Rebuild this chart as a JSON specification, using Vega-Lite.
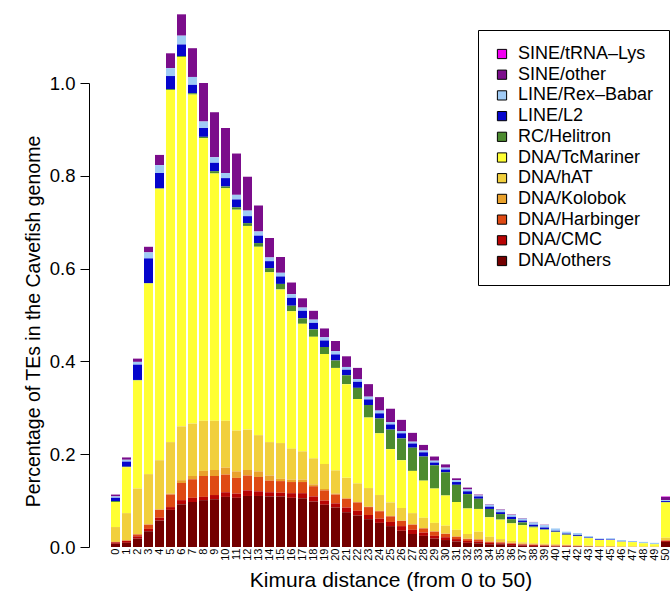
{
  "$schema": "https://vega.github.io/schema/vega-lite/v6.json",
  "width": 561,
  "height": 540,
  "autosize": {"type": "none"},
  "padding": {"left": 110, "top": 7, "right": 1, "bottom": 44},
  "background": "white",
  "config": {
    "view": {"stroke": null},
    "font": "Liberation Sans",
    "axis": {"grid": false, "labelColor": "black", "titleColor": "black", "domainColor": "black", "tickColor": "black", "titleFontWeight": "normal"}
  },
  "data": {
    "values": [
      {"k": 0, "DNA/others": 0.007, "DNA/CMC": 0.003, "DNA/Harbinger": 0.001, "DNA/Kolobok": 0, "DNA/hAT": 0.032, "DNA/TcMariner": 0.054, "RC/Helitron": 0.002, "LINE/L2": 0.007, "LINE/Rex–Babar": 0.003, "SINE/other": 0.004, "SINE/tRNA–Lys": 0},
      {"k": 1, "DNA/others": 0.009, "DNA/CMC": 0.004, "DNA/Harbinger": 0.001, "DNA/Kolobok": 0, "DNA/hAT": 0.059, "DNA/TcMariner": 0.099, "RC/Helitron": 0.001, "LINE/L2": 0.011, "LINE/Rex–Babar": 0.004, "SINE/other": 0.005, "SINE/tRNA–Lys": 0},
      {"k": 2, "DNA/others": 0.018, "DNA/CMC": 0.005, "DNA/Harbinger": 0.004, "DNA/Kolobok": 0.001, "DNA/hAT": 0.098, "DNA/TcMariner": 0.233, "RC/Helitron": 0.001, "LINE/L2": 0.033, "LINE/Rex–Babar": 0.006, "SINE/other": 0.007, "SINE/tRNA–Lys": 0},
      {"k": 3, "DNA/others": 0.034, "DNA/CMC": 0.005, "DNA/Harbinger": 0.009, "DNA/Kolobok": 0.001, "DNA/hAT": 0.108, "DNA/TcMariner": 0.411, "RC/Helitron": 0.001, "LINE/L2": 0.053, "LINE/Rex–Babar": 0.013, "SINE/other": 0.012, "SINE/tRNA–Lys": 0},
      {"k": 4, "DNA/others": 0.057, "DNA/CMC": 0.006, "DNA/Harbinger": 0.017, "DNA/Kolobok": 0.001, "DNA/hAT": 0.106, "DNA/TcMariner": 0.585, "RC/Helitron": 0.001, "LINE/L2": 0.033, "LINE/Rex–Babar": 0.017, "SINE/other": 0.022, "SINE/tRNA–Lys": 0},
      {"k": 5, "DNA/others": 0.080, "DNA/CMC": 0.006, "DNA/Harbinger": 0.027, "DNA/Kolobok": 0.002, "DNA/hAT": 0.111, "DNA/TcMariner": 0.759, "RC/Helitron": 0.002, "LINE/L2": 0.028, "LINE/Rex–Babar": 0.017, "SINE/other": 0.032, "SINE/tRNA–Lys": 0},
      {"k": 6, "DNA/others": 0.092, "DNA/CMC": 0.009, "DNA/Harbinger": 0.037, "DNA/Kolobok": 0.006, "DNA/hAT": 0.116, "DNA/TcMariner": 0.796, "RC/Helitron": 0.002, "LINE/L2": 0.025, "LINE/Rex–Babar": 0.019, "SINE/other": 0.046, "SINE/tRNA–Lys": 0},
      {"k": 7, "DNA/others": 0.097, "DNA/CMC": 0.009, "DNA/Harbinger": 0.040, "DNA/Kolobok": 0.007, "DNA/hAT": 0.113, "DNA/TcMariner": 0.709, "RC/Helitron": 0.003, "LINE/L2": 0.018, "LINE/Rex–Babar": 0.017, "SINE/other": 0.062, "SINE/tRNA–Lys": 0},
      {"k": 8, "DNA/others": 0.101, "DNA/CMC": 0.007, "DNA/Harbinger": 0.045, "DNA/Kolobok": 0.011, "DNA/hAT": 0.108, "DNA/TcMariner": 0.609, "RC/Helitron": 0.003, "LINE/L2": 0.019, "LINE/Rex–Babar": 0.014, "SINE/other": 0.083, "SINE/tRNA–Lys": 0},
      {"k": 9, "DNA/others": 0.103, "DNA/CMC": 0.009, "DNA/Harbinger": 0.041, "DNA/Kolobok": 0.013, "DNA/hAT": 0.106, "DNA/TcMariner": 0.533, "RC/Helitron": 0.005, "LINE/L2": 0.018, "LINE/Rex–Babar": 0.012, "SINE/other": 0.097, "SINE/tRNA–Lys": 0},
      {"k": 10, "DNA/others": 0.108, "DNA/CMC": 0.010, "DNA/Harbinger": 0.038, "DNA/Kolobok": 0.015, "DNA/hAT": 0.101, "DNA/TcMariner": 0.501, "RC/Helitron": 0.004, "LINE/L2": 0.018, "LINE/Rex–Babar": 0.011, "SINE/other": 0.097, "SINE/tRNA–Lys": 0},
      {"k": 11, "DNA/others": 0.106, "DNA/CMC": 0.009, "DNA/Harbinger": 0.034, "DNA/Kolobok": 0.014, "DNA/hAT": 0.088, "DNA/TcMariner": 0.476, "RC/Helitron": 0.005, "LINE/L2": 0.017, "LINE/Rex–Babar": 0.010, "SINE/other": 0.089, "SINE/tRNA–Lys": 0},
      {"k": 12, "DNA/others": 0.110, "DNA/CMC": 0.012, "DNA/Harbinger": 0.032, "DNA/Kolobok": 0.012, "DNA/hAT": 0.087, "DNA/TcMariner": 0.439, "RC/Helitron": 0.006, "LINE/L2": 0.015, "LINE/Rex–Babar": 0.012, "SINE/other": 0.073, "SINE/tRNA–Lys": 0},
      {"k": 13, "DNA/others": 0.110, "DNA/CMC": 0.010, "DNA/Harbinger": 0.031, "DNA/Kolobok": 0.012, "DNA/hAT": 0.078, "DNA/TcMariner": 0.406, "RC/Helitron": 0.008, "LINE/L2": 0.016, "LINE/Rex–Babar": 0.009, "SINE/other": 0.056, "SINE/tRNA–Lys": 0},
      {"k": 14, "DNA/others": 0.109, "DNA/CMC": 0.009, "DNA/Harbinger": 0.025, "DNA/Kolobok": 0.011, "DNA/hAT": 0.072, "DNA/TcMariner": 0.366, "RC/Helitron": 0.009, "LINE/L2": 0.015, "LINE/Rex–Babar": 0.008, "SINE/other": 0.042, "SINE/tRNA–Lys": 0},
      {"k": 15, "DNA/others": 0.109, "DNA/CMC": 0.008, "DNA/Harbinger": 0.025, "DNA/Kolobok": 0.005, "DNA/hAT": 0.077, "DNA/TcMariner": 0.331, "RC/Helitron": 0.012, "LINE/L2": 0.016, "LINE/Rex–Babar": 0.008, "SINE/other": 0.034, "SINE/tRNA–Lys": 0},
      {"k": 16, "DNA/others": 0.106, "DNA/CMC": 0.010, "DNA/Harbinger": 0.024, "DNA/Kolobok": 0.005, "DNA/hAT": 0.067, "DNA/TcMariner": 0.296, "RC/Helitron": 0.012, "LINE/L2": 0.017, "LINE/Rex–Babar": 0.008, "SINE/other": 0.025, "SINE/tRNA–Lys": 0},
      {"k": 17, "DNA/others": 0.105, "DNA/CMC": 0.011, "DNA/Harbinger": 0.024, "DNA/Kolobok": 0.005, "DNA/hAT": 0.061, "DNA/TcMariner": 0.275, "RC/Helitron": 0.012, "LINE/L2": 0.016, "LINE/Rex–Babar": 0.007, "SINE/other": 0.020, "SINE/tRNA–Lys": 0},
      {"k": 18, "DNA/others": 0.098, "DNA/CMC": 0.011, "DNA/Harbinger": 0.022, "DNA/Kolobok": 0.004, "DNA/hAT": 0.056, "DNA/TcMariner": 0.262, "RC/Helitron": 0.016, "LINE/L2": 0.014, "LINE/Rex–Babar": 0.007, "SINE/other": 0.019, "SINE/tRNA–Lys": 0},
      {"k": 19, "DNA/others": 0.091, "DNA/CMC": 0.009, "DNA/Harbinger": 0.022, "DNA/Kolobok": 0.003, "DNA/hAT": 0.054, "DNA/TcMariner": 0.237, "RC/Helitron": 0.015, "LINE/L2": 0.014, "LINE/Rex–Babar": 0.007, "SINE/other": 0.019, "SINE/tRNA–Lys": 0},
      {"k": 20, "DNA/others": 0.085, "DNA/CMC": 0.009, "DNA/Harbinger": 0.019, "DNA/Kolobok": 0.002, "DNA/hAT": 0.050, "DNA/TcMariner": 0.221, "RC/Helitron": 0.016, "LINE/L2": 0.013, "LINE/Rex–Babar": 0.007, "SINE/other": 0.022, "SINE/tRNA–Lys": 0},
      {"k": 21, "DNA/others": 0.075, "DNA/CMC": 0.010, "DNA/Harbinger": 0.019, "DNA/Kolobok": 0.001, "DNA/hAT": 0.044, "DNA/TcMariner": 0.202, "RC/Helitron": 0.019, "LINE/L2": 0.012, "LINE/Rex–Babar": 0.006, "SINE/other": 0.023, "SINE/tRNA–Lys": 0},
      {"k": 22, "DNA/others": 0.068, "DNA/CMC": 0.010, "DNA/Harbinger": 0.018, "DNA/Kolobok": 0.001, "DNA/hAT": 0.040, "DNA/TcMariner": 0.182, "RC/Helitron": 0.024, "LINE/L2": 0.013, "LINE/Rex–Babar": 0.006, "SINE/other": 0.024, "SINE/tRNA–Lys": 0},
      {"k": 23, "DNA/others": 0.060, "DNA/CMC": 0.009, "DNA/Harbinger": 0.017, "DNA/Kolobok": 0.001, "DNA/hAT": 0.040, "DNA/TcMariner": 0.152, "RC/Helitron": 0.027, "LINE/L2": 0.012, "LINE/Rex–Babar": 0.006, "SINE/other": 0.027, "SINE/tRNA–Lys": 0},
      {"k": 24, "DNA/others": 0.052, "DNA/CMC": 0.009, "DNA/Harbinger": 0.016, "DNA/Kolobok": 0.001, "DNA/hAT": 0.034, "DNA/TcMariner": 0.133, "RC/Helitron": 0.032, "LINE/L2": 0.011, "LINE/Rex–Babar": 0.006, "SINE/other": 0.029, "SINE/tRNA–Lys": 0},
      {"k": 25, "DNA/others": 0.045, "DNA/CMC": 0.009, "DNA/Harbinger": 0.012, "DNA/Kolobok": 0.001, "DNA/hAT": 0.029, "DNA/TcMariner": 0.115, "RC/Helitron": 0.042, "LINE/L2": 0.011, "LINE/Rex–Babar": 0.005, "SINE/other": 0.029, "SINE/tRNA–Lys": 0},
      {"k": 26, "DNA/others": 0.035, "DNA/CMC": 0.010, "DNA/Harbinger": 0.011, "DNA/Kolobok": 0.001, "DNA/hAT": 0.027, "DNA/TcMariner": 0.103, "RC/Helitron": 0.047, "LINE/L2": 0.011, "LINE/Rex–Babar": 0.005, "SINE/other": 0.024, "SINE/tRNA–Lys": 0},
      {"k": 27, "DNA/others": 0.028, "DNA/CMC": 0.009, "DNA/Harbinger": 0.011, "DNA/Kolobok": 0.001, "DNA/hAT": 0.024, "DNA/TcMariner": 0.091, "RC/Helitron": 0.050, "LINE/L2": 0.009, "LINE/Rex–Babar": 0.004, "SINE/other": 0.019, "SINE/tRNA–Lys": 0},
      {"k": 28, "DNA/others": 0.024, "DNA/CMC": 0.007, "DNA/Harbinger": 0.009, "DNA/Kolobok": 0.001, "DNA/hAT": 0.022, "DNA/TcMariner": 0.080, "RC/Helitron": 0.052, "LINE/L2": 0.009, "LINE/Rex–Babar": 0.004, "SINE/other": 0.012, "SINE/tRNA–Lys": 0},
      {"k": 29, "DNA/others": 0.018, "DNA/CMC": 0.006, "DNA/Harbinger": 0.009, "DNA/Kolobok": 0.001, "DNA/hAT": 0.018, "DNA/TcMariner": 0.074, "RC/Helitron": 0.050, "LINE/L2": 0.006, "LINE/Rex–Babar": 0.004, "SINE/other": 0.009, "SINE/tRNA–Lys": 0},
      {"k": 30, "DNA/others": 0.015, "DNA/CMC": 0.006, "DNA/Harbinger": 0.007, "DNA/Kolobok": 0.001, "DNA/hAT": 0.017, "DNA/TcMariner": 0.065, "RC/Helitron": 0.050, "LINE/L2": 0.006, "LINE/Rex–Babar": 0.004, "SINE/other": 0.007, "SINE/tRNA–Lys": 0},
      {"k": 31, "DNA/others": 0.012, "DNA/CMC": 0.005, "DNA/Harbinger": 0.005, "DNA/Kolobok": 0.001, "DNA/hAT": 0.014, "DNA/TcMariner": 0.060, "RC/Helitron": 0.037, "LINE/L2": 0.006, "LINE/Rex–Babar": 0.004, "SINE/other": 0.004, "SINE/tRNA–Lys": 0},
      {"k": 32, "DNA/others": 0.009, "DNA/CMC": 0.004, "DNA/Harbinger": 0.004, "DNA/Kolobok": 0.001, "DNA/hAT": 0.010, "DNA/TcMariner": 0.055, "RC/Helitron": 0.031, "LINE/L2": 0.006, "LINE/Rex–Babar": 0.004, "SINE/other": 0.004, "SINE/tRNA–Lys": 0},
      {"k": 33, "DNA/others": 0.008, "DNA/CMC": 0.004, "DNA/Harbinger": 0.004, "DNA/Kolobok": 0.001, "DNA/hAT": 0.016, "DNA/TcMariner": 0.049, "RC/Helitron": 0.022, "LINE/L2": 0.005, "LINE/Rex–Babar": 0.002, "SINE/other": 0.002, "SINE/tRNA–Lys": 0},
      {"k": 34, "DNA/others": 0.006, "DNA/CMC": 0.003, "DNA/Harbinger": 0.002, "DNA/Kolobok": 0.001, "DNA/hAT": 0.010, "DNA/TcMariner": 0.042, "RC/Helitron": 0.018, "LINE/L2": 0.005, "LINE/Rex–Babar": 0.004, "SINE/other": 0.001, "SINE/tRNA–Lys": 0},
      {"k": 35, "DNA/others": 0.006, "DNA/CMC": 0.002, "DNA/Harbinger": 0.002, "DNA/Kolobok": 0.001, "DNA/hAT": 0.006, "DNA/TcMariner": 0.042, "RC/Helitron": 0.012, "LINE/L2": 0.004, "LINE/Rex–Babar": 0.005, "SINE/other": 0.001, "SINE/tRNA–Lys": 0},
      {"k": 36, "DNA/others": 0.004, "DNA/CMC": 0.003, "DNA/Harbinger": 0.001, "DNA/Kolobok": 0.001, "DNA/hAT": 0.004, "DNA/TcMariner": 0.038, "RC/Helitron": 0.009, "LINE/L2": 0.005, "LINE/Rex–Babar": 0.004, "SINE/other": 0.001, "SINE/tRNA–Lys": 0},
      {"k": 37, "DNA/others": 0.003, "DNA/CMC": 0.002, "DNA/Harbinger": 0.001, "DNA/Kolobok": 0.001, "DNA/hAT": 0.003, "DNA/TcMariner": 0.037, "RC/Helitron": 0.006, "LINE/L2": 0.004, "LINE/Rex–Babar": 0.004, "SINE/other": 0.001, "SINE/tRNA–Lys": 0},
      {"k": 38, "DNA/others": 0.002, "DNA/CMC": 0.002, "DNA/Harbinger": 0.001, "DNA/Kolobok": 0.001, "DNA/hAT": 0.002, "DNA/TcMariner": 0.034, "RC/Helitron": 0.002, "LINE/L2": 0.004, "LINE/Rex–Babar": 0.005, "SINE/other": 0.001, "SINE/tRNA–Lys": 0},
      {"k": 39, "DNA/others": 0.002, "DNA/CMC": 0.001, "DNA/Harbinger": 0.001, "DNA/Kolobok": 0.001, "DNA/hAT": 0.002, "DNA/TcMariner": 0.030, "RC/Helitron": 0.001, "LINE/L2": 0.004, "LINE/Rex–Babar": 0.005, "SINE/other": 0.001, "SINE/tRNA–Lys": 0},
      {"k": 40, "DNA/others": 0.001, "DNA/CMC": 0.001, "DNA/Harbinger": 0.001, "DNA/Kolobok": 0.001, "DNA/hAT": 0.002, "DNA/TcMariner": 0.026, "RC/Helitron": 0.001, "LINE/L2": 0.002, "LINE/Rex–Babar": 0.005, "SINE/other": 0, "SINE/tRNA–Lys": 0},
      {"k": 41, "DNA/others": 0.001, "DNA/CMC": 0.001, "DNA/Harbinger": 0.001, "DNA/Kolobok": 0.001, "DNA/hAT": 0.001, "DNA/TcMariner": 0.021, "RC/Helitron": 0.001, "LINE/L2": 0.002, "LINE/Rex–Babar": 0.004, "SINE/other": 0, "SINE/tRNA–Lys": 0},
      {"k": 42, "DNA/others": 0.001, "DNA/CMC": 0, "DNA/Harbinger": 0.001, "DNA/Kolobok": 0.001, "DNA/hAT": 0.001, "DNA/TcMariner": 0.019, "RC/Helitron": 0.001, "LINE/L2": 0.002, "LINE/Rex–Babar": 0.004, "SINE/other": 0, "SINE/tRNA–Lys": 0},
      {"k": 43, "DNA/others": 0.0005, "DNA/CMC": 0, "DNA/Harbinger": 0.0005, "DNA/Kolobok": 0.001, "DNA/hAT": 0.001, "DNA/TcMariner": 0.016, "RC/Helitron": 0.0005, "LINE/L2": 0.001, "LINE/Rex–Babar": 0.003, "SINE/other": 0, "SINE/tRNA–Lys": 0},
      {"k": 44, "DNA/others": 0, "DNA/CMC": 0, "DNA/Harbinger": 0.0005, "DNA/Kolobok": 0.0005, "DNA/hAT": 0.001, "DNA/TcMariner": 0.013, "RC/Helitron": 0, "LINE/L2": 0.0015, "LINE/Rex–Babar": 0.002, "SINE/other": 0, "SINE/tRNA–Lys": 0},
      {"k": 45, "DNA/others": 0, "DNA/CMC": 0, "DNA/Harbinger": 0.0005, "DNA/Kolobok": 0.0005, "DNA/hAT": 0.001, "DNA/TcMariner": 0.013, "RC/Helitron": 0, "LINE/L2": 0.001, "LINE/Rex–Babar": 0.003, "SINE/other": 0, "SINE/tRNA–Lys": 0},
      {"k": 46, "DNA/others": 0, "DNA/CMC": 0, "DNA/Harbinger": 0, "DNA/Kolobok": 0.0005, "DNA/hAT": 0.001, "DNA/TcMariner": 0.010, "RC/Helitron": 0, "LINE/L2": 0.0005, "LINE/Rex–Babar": 0.003, "SINE/other": 0, "SINE/tRNA–Lys": 0},
      {"k": 47, "DNA/others": 0, "DNA/CMC": 0, "DNA/Harbinger": 0, "DNA/Kolobok": 0.0005, "DNA/hAT": 0.001, "DNA/TcMariner": 0.009, "RC/Helitron": 0, "LINE/L2": 0.0005, "LINE/Rex–Babar": 0.002, "SINE/other": 0, "SINE/tRNA–Lys": 0},
      {"k": 48, "DNA/others": 0, "DNA/CMC": 0, "DNA/Harbinger": 0, "DNA/Kolobok": 0.0005, "DNA/hAT": 0.0005, "DNA/TcMariner": 0.007, "RC/Helitron": 0, "LINE/L2": 0, "LINE/Rex–Babar": 0.003, "SINE/other": 0, "SINE/tRNA–Lys": 0},
      {"k": 49, "DNA/others": 0, "DNA/CMC": 0, "DNA/Harbinger": 0, "DNA/Kolobok": 0.0005, "DNA/hAT": 0.0005, "DNA/TcMariner": 0.005, "RC/Helitron": 0, "LINE/L2": 0, "LINE/Rex–Babar": 0.003, "SINE/other": 0, "SINE/tRNA–Lys": 0},
      {"k": 50, "DNA/others": 0.011, "DNA/CMC": 0.002, "DNA/Harbinger": 0.001, "DNA/Kolobok": 0.001, "DNA/hAT": 0.005, "DNA/TcMariner": 0.076, "RC/Helitron": 0.001, "LINE/L2": 0.002, "LINE/Rex–Babar": 0.002, "SINE/other": 0.007, "SINE/tRNA–Lys": 0.001}
    ]
  },
  "transform": [
    {"fold": ["SINE/tRNA–Lys", "SINE/other", "LINE/Rex–Babar", "LINE/L2", "RC/Helitron", "DNA/TcMariner", "DNA/hAT", "DNA/Kolobok", "DNA/Harbinger", "DNA/CMC", "DNA/others"], "as": ["type", "value"]},
    {"calculate": "indexof(['SINE/tRNA–Lys', 'SINE/other', 'LINE/Rex–Babar', 'LINE/L2', 'RC/Helitron', 'DNA/TcMariner', 'DNA/hAT', 'DNA/Kolobok', 'DNA/Harbinger', 'DNA/CMC', 'DNA/others'], datum.type)", "as": "ord"}
  ],
  "mark": {"type": "bar"},
  "encoding": {
    "x": {
      "field": "k",
      "type": "ordinal",
      "scale": {"paddingInner": 0.18, "paddingOuter": 0.09},
      "axis": {
        "title": "Kimura distance (from 0 to 50)",
        "labelAngle": -90,
        "labelFontSize": 11,
        "labelOverlap": false,
        "domain": false,
        "ticks": false,
        "labelPadding": 1,
        "titleFontSize": 21,
        "titlePadding": 9
      }
    },
    "y": {
      "field": "value",
      "type": "quantitative",
      "stack": "zero",
      "scale": {"domain": [0, 1], "range": [540, 76], "nice": false},
      "axis": {
        "title": "Percentage of TEs in the Cavefish genome",
        "values": [0, 0.2, 0.4, 0.6, 0.8, 1.0],
        "format": ".1f",
        "offset": 21,
        "tickSize": 9,
        "labelPadding": 5,
        "labelFontSize": 18.5,
        "titleFontSize": 19.5,
        "titlePadding": 6,
        "titleY": 314
      }
    },
    "color": {
      "field": "type",
      "type": "nominal",
      "scale": {
        "domain": ["SINE/tRNA–Lys", "SINE/other", "LINE/Rex–Babar", "LINE/L2", "RC/Helitron", "DNA/TcMariner", "DNA/hAT", "DNA/Kolobok", "DNA/Harbinger", "DNA/CMC", "DNA/others"],
        "range": ["#F000F0", "#7B0D8B", "#A0CBF5", "#0505CC", "#4C8B2F", "#FFFF33", "#F1CF3D", "#E9A12C", "#DF4A14", "#B80404", "#740000"]
      },
      "legend": {
        "title": null,
        "orient": "none",
        "legendX": 368,
        "legendY": 23,
        "padding": 15,
        "strokeColor": "black",
        "symbolType": "square",
        "symbolSize": 85,
        "symbolStrokeColor": "black",
        "symbolStrokeWidth": 1,
        "symbolOpacity": 1,
        "labelFontSize": 18,
        "labelColor": "black",
        "labelOffset": 7,
        "labelLimit": 400,
        "rowPadding": 2.7
      }
    },
    "order": {"field": "ord", "type": "quantitative", "sort": "descending"}
  }
}
